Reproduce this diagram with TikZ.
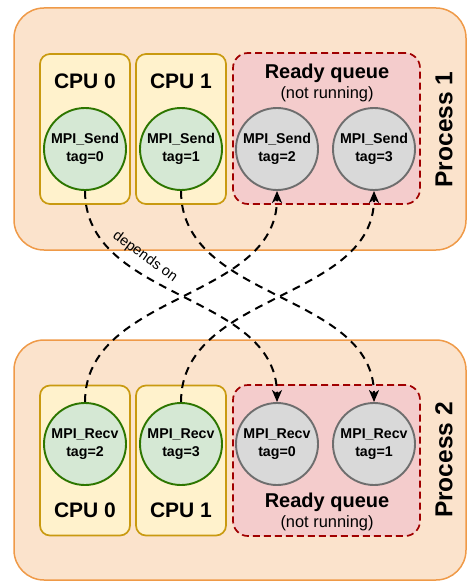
\documentclass[tikz,border=0pt]{standalone}
\usepackage{fontspec}
\setmainfont{Liberation Sans}
\usetikzlibrary{arrows.meta}

\definecolor{procfill}{HTML}{FBE3CC}
\definecolor{procline}{HTML}{EF9A48}
\definecolor{cpufill}{HTML}{FFF2CC}
\definecolor{cpuline}{HTML}{C99A10}
\definecolor{rqfill}{HTML}{F4CCCC}
\definecolor{rqline}{HTML}{A00000}
\definecolor{runfill}{HTML}{D5E8D4}
\definecolor{runline}{HTML}{2D7600}
\definecolor{waitfill}{HTML}{D9D9D9}
\definecolor{waitline}{HTML}{6E6E6E}

\tikzset{
  proc/.style={draw=procline, fill=procfill, line width=1.5pt, rounded corners=30pt, inner sep=0pt},
  cpubox/.style={draw=cpuline, fill=cpufill, line width=1.7pt, rounded corners=10pt,
    minimum width=90pt, minimum height=150pt, inner sep=0pt},
  rqbox/.style={draw=rqline, fill=rqfill, line width=1.7pt, dash pattern=on 7pt off 4pt,
    rounded corners=15pt, minimum width=187pt, minimum height=151pt, inner sep=0pt},
  task/.style={circle, minimum size=82pt, inner sep=0pt, line width=1.9pt, align=center,
    font=\fontsize{14.2}{17.5}\selectfont\bfseries},
  runtask/.style={task, draw=runline, fill=runfill},
  waittask/.style={task, draw=waitline, fill=waitfill},
  head/.style={font=\fontsize{21}{24}\selectfont\bfseries, anchor=base, inner sep=0pt},
  sub/.style={font=\fontsize{16.4}{19}\selectfont, anchor=base, inner sep=0pt},
  proclabel/.style={font=\fontsize{24.5}{28}\selectfont\bfseries, rotate=90, inner sep=0pt},
  dep/.style={draw=black, line width=2pt, dash pattern=on 8pt off 6pt,
    -{Stealth[length=12pt, width=10pt, inset=3.5pt]}},
}

\begin{document}
\begin{tikzpicture}[x=1pt, y=-1pt]
  \useasboundingbox (0,0) rectangle (468,583);

  % process containers
  \node[proc, minimum width=452pt, minimum height=242pt] (p1) at (240,129) {};
  \node[proc, minimum width=452pt, minimum height=240pt] (p2) at (240,460) {};

  % process 1: two CPUs and the ready queue
  \node[cpubox] (c10) at (85,129) {};
  \node[cpubox] (c11) at (181,129) {};
  \node[rqbox] (q1) at (326.5,128.5) {};
  \node[head] (c10t) at (85,89) {CPU 0};
  \node[head] (c11t) at (181,89) {CPU 1};
  \node[head, font=\fontsize{20}{24}\selectfont\bfseries] (q1t) at (327,78.5) {Ready queue};
  \node[sub] (q1s) at (327,99) {(not running)};
  \node[proclabel] (p1t) at (444,129.5) {Process 1};

  \node[runtask] (s0) at (85,149) {MPI\_Send\\tag=0};
  \node[runtask] (s1) at (181,149) {MPI\_Send\\tag=1};
  \node[waittask] (s2) at (277,149) {MPI\_Send\\tag=2};
  \node[waittask] (s3) at (374,149) {MPI\_Send\\tag=3};

  % process 2: two CPUs and the ready queue
  \node[cpubox] (c20) at (85,460.5) {};
  \node[cpubox] (c21) at (181,460.5) {};
  \node[rqbox] (q2) at (326.5,460.5) {};
  \node[head] (c20t) at (85,517.5) {CPU 0};
  \node[head] (c21t) at (181,517.5) {CPU 1};
  \node[head, font=\fontsize{20}{24}\selectfont\bfseries] (q2t) at (327,507.5) {Ready queue};
  \node[sub] (q2s) at (327,527.5) {(not running)};
  \node[proclabel] (p2t) at (444,460) {Process 2};

  \node[runtask] (r2) at (85,444) {MPI\_Recv\\tag=2};
  \node[runtask] (r3) at (181,444) {MPI\_Recv\\tag=3};
  \node[waittask] (r0) at (277,444) {MPI\_Recv\\tag=0};
  \node[waittask] (r1) at (374,444) {MPI\_Recv\\tag=1};

  % dependencies between the two processes
  \draw[dep] (s0.south) .. controls +(0,110) and +(0,-110) .. (r0.north);
  \draw[dep] (s1.south) .. controls +(0,110) and +(0,-110) .. (r1.north);
  \draw[dep] (r2.north) .. controls +(0,-110) and +(0,110) .. (s2.south);
  \draw[dep] (r3.north) .. controls +(0,-110) and +(0,110) .. (s3.south);

  \node[font=\fontsize{14.5}{17}\selectfont, rotate=-36, inner sep=0pt] (deplbl) at (145,257) {depends on};
\end{tikzpicture}
\end{document}
